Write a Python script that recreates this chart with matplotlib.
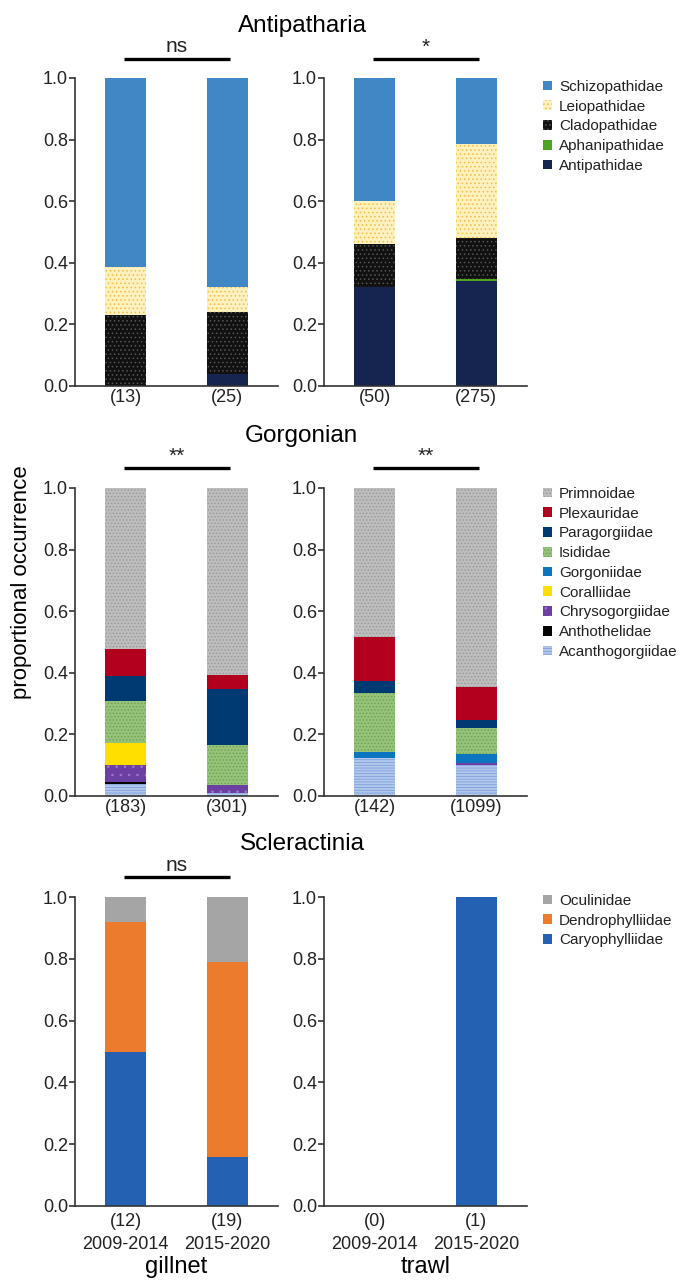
import matplotlib
matplotlib.use("Agg")
import matplotlib.pyplot as plt
from matplotlib.patches import Patch

plt.rcParams['font.family'] = ['Liberation Sans', 'DejaVu Sans']
plt.rcParams['hatch.linewidth'] = 0.6

# ---------------- data ----------------
periods = ["2009-2014", "2015-2020"]
gears = ["gillnet", "trawl"]

anti_families = ["Antipathidae", "Aphanipathidae", "Cladopathidae", "Leiopathidae", "Schizopathidae"]
anti_n = [["(13)", "(25)"], ["(50)", "(275)"]]
anti_gillnet = {"Antipathidae": [0.0, 0.04], "Aphanipathidae": [0.0, 0.0],
                "Cladopathidae": [0.23, 0.20], "Leiopathidae": [0.155, 0.08],
                "Schizopathidae": [0.615, 0.68]}
anti_trawl = {"Antipathidae": [0.32, 0.34], "Aphanipathidae": [0.0, 0.006],
              "Cladopathidae": [0.14, 0.134], "Leiopathidae": [0.14, 0.305],
              "Schizopathidae": [0.40, 0.215]}
anti_sig = ["ns", "*"]

gorg_families = ["Acanthogorgiidae", "Anthothelidae", "Chrysogorgiidae", "Coralliidae",
                 "Gorgoniidae", "Isididae", "Paragorgiidae", "Plexauridae", "Primnoidae"]
gorg_n = [["(183)", "(301)"], ["(142)", "(1099)"]]
gorg_gillnet = {"Acanthogorgiidae": [0.038, 0.011], "Anthothelidae": [0.008, 0.0],
                "Chrysogorgiidae": [0.055, 0.025], "Coralliidae": [0.07, 0.0],
                "Gorgoniidae": [0.0, 0.0], "Isididae": [0.136, 0.129],
                "Paragorgiidae": [0.083, 0.184], "Plexauridae": [0.087, 0.043],
                "Primnoidae": [0.523, 0.608]}
gorg_trawl = {"Acanthogorgiidae": [0.125, 0.10], "Anthothelidae": [0.0, 0.0],
              "Chrysogorgiidae": [0.0, 0.006], "Coralliidae": [0.0, 0.0],
              "Gorgoniidae": [0.019, 0.031], "Isididae": [0.19, 0.083],
              "Paragorgiidae": [0.041, 0.027], "Plexauridae": [0.14, 0.108],
              "Primnoidae": [0.485, 0.645]}
gorg_sig = ["**", "**"]

scle_families = ["Caryophylliidae", "Dendrophylliidae", "Oculinidae"]
scle_n = [["(12)", "(19)"], ["(0)", "(1)"]]
scle_gillnet = {"Caryophylliidae": [0.5, 0.158], "Dendrophylliidae": [0.42, 0.632],
                "Oculinidae": [0.08, 0.21]}
scle_trawl = {"Caryophylliidae": [0.0, 1.0], "Dendrophylliidae": [0.0, 0.0],
              "Oculinidae": [0.0, 0.0]}
scle_sig = ["ns", None]

# ---------------- styles ----------------
styles = {
    "Schizopathidae": dict(fc="#3F87C5", ec="#3F87C5", hatch=None),
    "Leiopathidae": dict(fc="#FFF0C0", ec="#F6BE3C", hatch="...."),
    "Cladopathidae": dict(fc="#111111", ec="#555555", hatch="...."),
    "Aphanipathidae": dict(fc="#4FA422", ec="#4FA422", hatch=None),
    "Antipathidae": dict(fc="#16254F", ec="#16254F", hatch=None),
    "Primnoidae": dict(fc="#BDBDBD", ec="#999999", hatch="....."),
    "Plexauridae": dict(fc="#B3001F", ec="#B3001F", hatch=None),
    "Paragorgiidae": dict(fc="#003A72", ec="#003A72", hatch=None),
    "Isididae": dict(fc="#96C37A", ec="#6FA050", hatch="....."),
    "Gorgoniidae": dict(fc="#0B76BF", ec="#0B76BF", hatch=None),
    "Coralliidae": dict(fc="#FFDF00", ec="#FFDF00", hatch=None),
    "Chrysogorgiidae": dict(fc="#6C3FA2", ec="#9A7CC6", hatch=".."),
    "Anthothelidae": dict(fc="#050505", ec="#050505", hatch=None),
    "Acanthogorgiidae": dict(fc="#B3C8EC", ec="#7C9FDA", hatch="------"),
    "Oculinidae": dict(fc="#A5A5A5", ec="#A5A5A5", hatch=None),
    "Dendrophylliidae": dict(fc="#EC7B2D", ec="#EC7B2D", hatch=None),
    "Caryophylliidae": dict(fc="#2461B3", ec="#2461B3", hatch=None),
}

W, H = 681, 1285
fig = plt.figure(figsize=(W / 100, H / 100), dpi=100)

def fx(px):
    return px / W

def fy(px):
    return 1 - px / H

col_x = [75, 324]
ax_w = 203
rows = [(78, 386), (488, 796), (897, 1206)]
TXT = "#222222"

def draw_panel(ax, families, data, nlabels, sig, sig_y, bottom_row, gear):
    x = [0, 1]
    base = [0.0, 0.0]
    for fam in families:
        vals = data[fam]
        st = styles[fam]
        ax.bar(x, vals, width=0.4, bottom=base, color=st["fc"], edgecolor=st["ec"],
               hatch=st["hatch"], linewidth=0)
        base = [b + v for b, v in zip(base, vals)]
    ax.set_xlim(-0.5, 1.5)
    ax.set_ylim(0, 1)
    ax.set_yticks([0, 0.2, 0.4, 0.6, 0.8, 1.0])
    ax.set_yticklabels(["0.0", "0.2", "0.4", "0.6", "0.8", "1.0"])
    ax.spines['top'].set_visible(False)
    ax.spines['right'].set_visible(False)
    for s in ('left', 'bottom'):
        ax.spines[s].set_linewidth(1.2)
        ax.spines[s].set_color("#333333")
    ax.tick_params(axis='y', labelsize=13, length=4, width=1.2, pad=1,
                   colors="#333333", labelcolor=TXT)
    ax.set_xticks(x)
    if bottom_row:
        ax.tick_params(axis='x', length=0, labelsize=13, pad=5, labelcolor=TXT)
        ax.set_xticklabels([f"{n}\n{p}" for n, p in zip(nlabels, periods)], linespacing=1.45)
        ax.set_xlabel(gear, fontsize=17, labelpad=2, color="black")
    else:
        ax.tick_params(axis='x', length=0, labelsize=13, pad=2, labelcolor=TXT)
        ax.set_xticklabels(nlabels)
    if sig is not None:
        ax.plot([-0.02, 1.03], [sig_y, sig_y], color="black", lw=2.4, clip_on=False,
                solid_capstyle="butt")
        ax.text(0.5, sig_y + 0.02, sig, ha="center", va="baseline", fontsize=15,
                color=TXT)

panels = [
    (anti_families, [anti_gillnet, anti_trawl], anti_n, anti_sig, 1.063),
    (gorg_families, [gorg_gillnet, gorg_trawl], gorg_n, gorg_sig, 1.066),
    (scle_families, [scle_gillnet, scle_trawl], scle_n, scle_sig, 1.065),
]

for r, (fams, datas, ns, sigs, sy) in enumerate(panels):
    top, bot = rows[r]
    for c in range(2):
        ax = fig.add_axes([fx(col_x[c]), fy(bot), fx(ax_w), (bot - top) / H])
        draw_panel(ax, fams, datas[c], ns[c], sigs[c], sy, r == 2, gears[c])

# titles
fig.text(fx(302), fy(32), "Antipatharia", ha="center", va="baseline", fontsize=17.5)
fig.text(fx(301), fy(442), "Gorgonian", ha="center", va="baseline", fontsize=17.5)
fig.text(fx(302), fy(850), "Scleractinia", ha="center", va="baseline", fontsize=17.5)
fig.text(fx(22), fy(582), "proportional occurrence", rotation=90, ha="center",
         va="center", fontsize=16)

# legends
def add_legend(families, top_px):
    handles = []
    for fam in reversed(families):
        st = styles[fam]
        handles.append(Patch(facecolor=st["fc"], edgecolor=st["ec"], hatch=st["hatch"],
                             linewidth=0, label=fam))
    fig.legend(handles=handles, loc="upper left", bbox_to_anchor=(fx(543), fy(top_px)),
               frameon=False, fontsize=11, handlelength=0.6, handleheight=0.6,
               handletextpad=0.45, labelspacing=0.375, borderaxespad=0, borderpad=0,
               labelcolor=TXT)

add_legend(anti_families, 80)
add_legend(gorg_families, 487)
add_legend(scle_families, 894)

fig.savefig("out.png", dpi=100)
